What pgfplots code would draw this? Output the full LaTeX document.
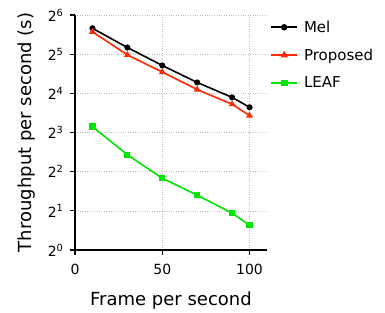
\documentclass[border=0pt]{standalone}
\usepackage{pgfplots}
\pgfplotsset{compat=1.18}
\usepackage{fontspec}
\setmainfont{DejaVu Sans}
\definecolor{cred}{RGB}{255,40,0}
\definecolor{cgreen}{RGB}{0,230,0}
\begin{document}
\begin{tikzpicture}
\begin{axis}[
  name=ax,
  scale only axis,
  width=192pt, height=235pt,
  xmin=0, xmax=110,
  ymode=log, log basis y=2,
  ymin=1, ymax=64,
  axis lines=left,
  axis line style={-, line width=1.4pt},
  xtick={0,50,100},
  ytick={1,2,4,8,16,32,64},
  yticklabels={2\textsuperscript{0},2\textsuperscript{1},2\textsuperscript{2},2\textsuperscript{3},2\textsuperscript{4},2\textsuperscript{5},2\textsuperscript{6}},
  tick style={black, line width=1.2pt},
  major tick length=5pt,
  tick align=outside,
  xticklabel style={font=\fontsize{14}{16}\selectfont, yshift=-6pt},
  yticklabel style={font=\fontsize{14}{16}\selectfont, xshift=-3pt},
  /pgf/number format/assume math mode=true,
  grid=major,
  grid style={dotted, gray!50, line width=0.6pt},
  xlabel={Frame per second},
  ylabel={Throughput per second (s)},
  label style={font=\fontsize{18}{20}\selectfont},
  xlabel style={yshift=-10pt},
  ylabel style={yshift=6pt},
  legend style={at={(axis description cs:1.0,0.993)}, anchor=north west, draw=none, fill=none,
    font=\fontsize{15}{17}\selectfont, row sep=11pt},
  legend cell align=left,
  legend image code/.code={\draw[line width=2pt, mark repeat=2,mark phase=2] plot coordinates {(0pt,0pt)(13pt,0pt)(26pt,0pt)}; \path (30pt,0pt);},
  every axis plot/.append style={line width=1.6pt},
]
\addplot[black, mark=*, mark size=2.2pt] coordinates {(10,50.6) (30,36.0) (50,26.2) (70,19.4) (90,14.9) (100,12.5)};
\addlegendentry{Mel}
\addplot[cred, mark=triangle*, mark size=2.4pt] coordinates {(10,47.5) (30,31.6) (50,23.3) (70,17.1) (90,13.2) (100,10.8)};
\addlegendentry{Proposed}
\addplot[cgreen, mark=square*, mark size=2.3pt] coordinates {(10,8.88) (30,5.39) (50,3.56) (70,2.64) (90,1.92) (100,1.55)};
\addlegendentry{LEAF}
\end{axis}
\path (ax.south west) ++(-75pt,-60pt) coordinate (bl);
\path (ax.north east) ++(118pt,15pt) coordinate (tr);
\path (bl) (tr);
\end{tikzpicture}
\end{document}
